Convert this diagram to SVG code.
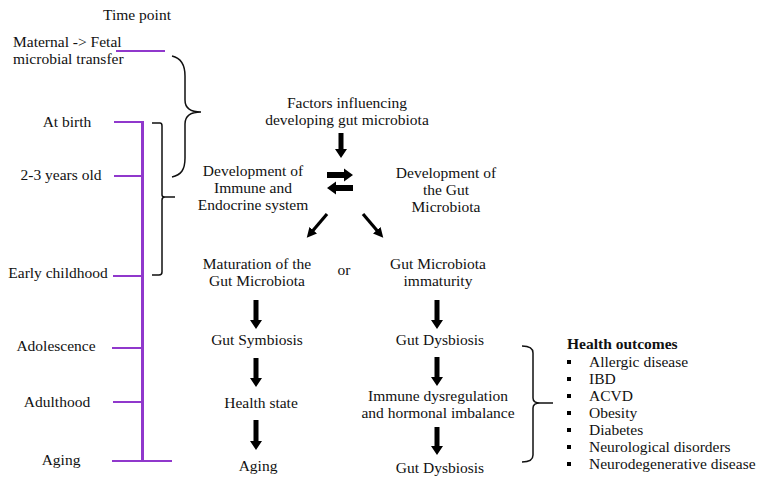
<svg xmlns="http://www.w3.org/2000/svg" width="763" height="484" viewBox="0 0 763 484">
<style>
.t text{font-size:15.5px;fill:#111}
.m{text-anchor:middle}
.b{font-weight:bold}
.tl{stroke:#9038cc;stroke-width:2;fill:none}
.tv{stroke-width:3}
.br{stroke:#111;stroke-width:1.5;fill:none}
.ar{fill:#000}
.dg{stroke:#000;stroke-width:3.2;fill:none;marker-end:url(#ah)}
</style>
<defs>
<marker id="ah" viewBox="0 0 10 10" refX="5" refY="5" markerWidth="10" markerHeight="10" markerUnits="userSpaceOnUse" orient="auto">
<path d="M0,0 L10,5 L0,10 z" fill="#000"/>
</marker>
</defs>
<g class="t" font-family="Liberation Serif, Tinos, Times New Roman, serif">
<g id="timeline">
<text class="m" x="137" y="20">Time point</text>
<path class="tl" d="M116,51 H165"/>
<path class="tl tv" d="M142.5,121 V462"/>
<path class="tl" d="M114,122 H143 M114,176 H143 M113,276 H143 M112,348 H143 M113,402 H143 M112,461 H172"/>
</g>
<g id="tp-maternal"><text x="13" y="47">Maternal -&gt; Fetal</text><text x="13" y="64">microbial transfer</text></g>
<g id="tp-birth"><text class="m" x="67" y="127">At birth</text></g>
<g id="tp-23"><text class="m" x="61" y="180">2-3 years old</text></g>
<g id="tp-early"><text class="m" x="58" y="278">Early childhood</text></g>
<g id="tp-adol"><text class="m" x="56" y="351">Adolescence</text></g>
<g id="tp-adult"><text class="m" x="57" y="407">Adulthood</text></g>
<g id="tp-aging"><text class="m" x="61" y="465">Aging</text></g>

<g id="braces">
<path class="br" d="M172,56 C181,58 185,64 185,76 L185,100 C185,108 190,112 201,112 C190,112 185,116 185,124 L185,158 C185,170 181,175 172,177"/>
<path class="br" d="M152,123 L160,123 Q162,123 162,126 L162,195 Q162,197 165,197 L175,197 M165,197 Q162,197 162,200 L162,272 Q162,275 159,275 L152,275"/>
<path class="br" d="M522,346 Q533,346 533,353 L533,398 Q533,403 540,403 L553,403 M540,403 Q533,403 533,408 L533,455 Q533,462 522,462"/>
</g>

<g id="factors"><text class="m" x="347" y="108">Factors influencing</text><text class="m" x="347" y="125">developing gut microbiota</text></g>
<g id="dev-immune"><text class="m" x="253" y="176">Development of</text><text class="m" x="253" y="193">Immune and</text><text class="m" x="253" y="210">Endocrine system</text></g>
<g id="dev-gut"><text class="m" x="446" y="178">Development of</text><text class="m" x="446" y="195">the Gut</text><text class="m" x="446" y="212">Microbiota</text></g>
<g id="maturation"><text class="m" x="257" y="269">Maturation of the</text><text class="m" x="257" y="286">Gut Microbiota</text></g>
<g id="or"><text class="m" x="344" y="275">or</text></g>
<g id="immaturity"><text class="m" x="438" y="269">Gut Microbiota</text><text class="m" x="438" y="286">immaturity</text></g>
<g id="symbiosis"><text class="m" x="257" y="345">Gut Symbiosis</text></g>
<g id="dysbiosis1"><text class="m" x="440" y="345">Gut Dysbiosis</text></g>
<g id="health"><text class="m" x="261" y="408">Health state</text></g>
<g id="dysreg"><text class="m" x="438" y="401">Immune dysregulation</text><text class="m" x="438" y="418">and hormonal imbalance</text></g>
<g id="aging2"><text class="m" x="258" y="471">Aging</text></g>
<g id="dysbiosis2"><text class="m" x="440" y="473">Gut Dysbiosis</text></g>

<g id="outcomes">
<text class="b" x="567" y="349">Health outcomes</text>
<g fill="#000">
<rect x="567" y="360" width="4" height="4"/>
<rect x="567" y="377" width="4" height="4"/>
<rect x="567" y="394" width="4" height="4"/>
<rect x="567" y="411" width="4" height="4"/>
<rect x="567" y="428" width="4" height="4"/>
<rect x="567" y="445" width="4" height="4"/>
<rect x="567" y="462" width="4" height="4"/>
</g>
<text x="589" y="367">Allergic disease</text>
<text x="589" y="384">IBD</text>
<text x="589" y="401">ACVD</text>
<text x="589" y="418">Obesity</text>
<text x="589" y="435">Diabetes</text>
<text x="589" y="452">Neurological disorders</text>
<text x="589" y="469">Neurodegenerative disease</text>
</g>
</g>
<g id="connectors">
<polygon class="ar" points="338.5,133 343.5,133 343.5,149 347,149 341,158 335,149 338.5,149"/>
<polygon class="ar" points="327,172 344,172 344,168.5 353,175 344,181.5 344,178 327,178"/>
<polygon class="ar" points="353,185 336,185 336,181.5 327,188 336,194.5 336,191 353,191"/>
<line class="dg" x1="327" y1="214" x2="310" y2="234"/>
<line class="dg" x1="363" y1="214" x2="380" y2="234"/>
<polygon class="ar" points="253.5,300 258.5,300 258.5,320 262,320 256,329 250,320 253.5,320"/>
<polygon class="ar" points="253.5,358 258.5,358 258.5,378 262,378 256,387 250,378 253.5,378"/>
<polygon class="ar" points="253.5,420 258.5,420 258.5,441 262,441 256,450 250,441 253.5,441"/>
<polygon class="ar" points="434.5,300 439.5,300 439.5,320 443,320 437,329 431,320 434.5,320"/>
<polygon class="ar" points="434.5,357 439.5,357 439.5,377 443,377 437,386 431,377 434.5,377"/>
<polygon class="ar" points="434.5,427 439.5,427 439.5,446 443,446 437,455 431,446 434.5,446"/>
</g>
</svg>
